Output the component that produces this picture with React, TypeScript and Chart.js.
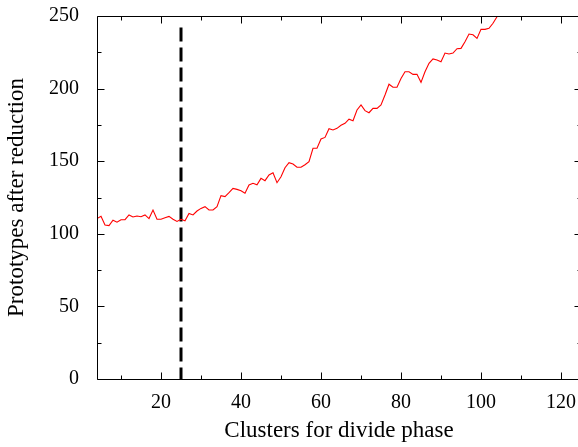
import React, { useEffect, useRef } from "react";
import { Chart, registerables } from "chart.js";

Chart.register(...registerables);

const clusters = [
  4, 5, 6, 7, 8, 9, 10, 11, 12, 13, 14, 15, 16, 17, 18, 19, 20, 21, 22, 23, 24,
  25, 26, 27, 28, 29, 30, 31, 32, 33, 34, 35, 36, 37, 38, 39, 40, 41, 42, 43, 44,
  45, 46, 47, 48, 49, 50, 51, 52, 53, 54, 55, 56, 57, 58, 59, 60, 61, 62, 63, 64,
  65, 66, 67, 68, 69, 70, 71, 72, 73, 74, 75, 76, 77, 78, 79, 80, 81, 82, 83, 84,
  85, 86, 87, 88, 89, 90, 91, 92, 93, 94, 95, 96, 97, 98, 99, 100, 101, 102, 103,
  104, 105,
];

const prototypes = [
  110.5, 112, 106, 105.6, 109.3, 108, 109.7, 109.7, 113, 111.6, 112.3, 111.8, 113,
  110.5, 116.4, 110, 110, 111, 112, 110, 108.5, 110, 109, 114, 113, 115.7, 117.5,
  118.7, 116.4, 116.4, 118.7, 126.3, 125.6, 128.3, 131.3, 130.6, 129.7, 127.9,
  133.6, 134.8, 133.8, 138.2, 136.6, 140.5, 142, 135.2, 139.3, 145.5, 149, 148,
  145.8, 145.8, 147.6, 149.7, 158.9, 158.9, 165.3, 166.4, 172.4, 171.5, 172.6,
  174.7, 176.1, 178.9, 177.9, 185.3, 188.7, 184.8, 183.4, 186.4, 186.4, 188.7,
  195.6, 203, 200.9, 200.9, 207, 211.6, 211.6, 209.8, 209.8, 204.3, 211.6, 217.4,
  220.4, 219.7, 218.5, 224.5, 223.8, 224.5, 227.5, 227.7, 232.3, 237.6, 237.1,
  234.6, 240.8, 240.8, 241.5, 245, 249.5, 255,
];

const markerX = [25, 25];
const markerY = [242, 0];

const xMajorTicks = [20, 40, 60, 80, 100, 120];
const xMinorTicks = [10, 30, 50, 70, 90, 110];
const yMajorTicks = [0, 50, 100, 150, 200, 250];
const yMinorTicks = [25, 75, 125, 175, 225];

const X_MIN = 4;
const X_MAX = 125;
const Y_MIN = 0;
const Y_MAX = 250;

const FONT = "'Liberation Serif', 'Times New Roman', serif";

const framePlugin = {
  id: "gnuplotFrame",
  afterDatasetsDraw(chart: any) {
    const { ctx, chartArea, scales } = chart;
    const xs = scales.x;
    const ys = scales.y;
    const l = Math.round(chartArea.left) + 0.5;
    const r = Math.round(chartArea.right) + 0.5;
    const t = Math.round(chartArea.top) + 0.5;
    const b = Math.round(chartArea.bottom) + 0.5;
    ctx.save();
    ctx.strokeStyle = "#000";
    ctx.lineWidth = 1;
    ctx.setLineDash([]);
    ctx.beginPath();
    ctx.moveTo(l, t);
    ctx.lineTo(r, t);
    ctx.moveTo(l, t);
    ctx.lineTo(l, b);
    ctx.lineTo(r, b);
    ctx.moveTo(r, t);
    ctx.lineTo(r, b);
    const major = 7;
    const minor = 4;
    const xt = (v: number, len: number) => {
      const px = Math.round(xs.getPixelForValue(v)) + 0.5;
      ctx.moveTo(px, b);
      ctx.lineTo(px, b - len);
      ctx.moveTo(px, t);
      ctx.lineTo(px, t + len);
    };
    const yt = (v: number, len: number) => {
      const py = Math.round(ys.getPixelForValue(v)) + 0.5;
      ctx.moveTo(l, py);
      ctx.lineTo(l + len, py);
      ctx.moveTo(r, py);
      ctx.lineTo(r - len, py);
    };
    xMajorTicks.forEach((v) => xt(v, major));
    xMinorTicks.forEach((v) => xt(v, minor));
    yMajorTicks.forEach((v) => yt(v, major));
    yMinorTicks.forEach((v) => yt(v, minor));
    ctx.stroke();
    ctx.restore();
  },
};

const zeroPad = (s: any) => {
  s.paddingTop = 0;
  s.paddingBottom = 0;
  s.paddingLeft = 0;
  s.paddingRight = 0;
};

export default function App() {
  const ref = useRef<HTMLCanvasElement | null>(null);

  useEffect(() => {
    if (!ref.current) return;
    const chart = new Chart(ref.current, {
      type: "line",
      data: {
        datasets: [
          {
            data: clusters.map((c, i) => ({ x: c, y: prototypes[i] })),
            borderColor: "#ff0000",
            borderWidth: 1.1,
            pointRadius: 0,
            tension: 0,
            fill: false,
          },
          {
            data: markerX.map((c, i) => ({ x: c, y: markerY[i] })),
            borderColor: "#000000",
            borderWidth: 3,
            borderDash: [14, 6],
            pointRadius: 0,
            fill: false,
          },
        ],
      },
      options: {
        responsive: false,
        animation: false,
        devicePixelRatio: 1,
        layout: { padding: { left: 0, top: 16, right: 3, bottom: 0 } },
        plugins: {
          legend: { display: false },
          tooltip: { enabled: false },
        },
        scales: {
          x: {
            type: "linear",
            min: X_MIN,
            max: X_MAX,
            grid: { display: false, drawTicks: false },
            border: { display: false },
            afterBuildTicks: (s: any) => {
              s.ticks = xMajorTicks.map((v) => ({ value: v }));
            },
            afterFit: (s: any) => {
              s.height = 68;
              zeroPad(s);
            },
            ticks: {
              autoSkip: false,
              maxRotation: 0,
              padding: 12,
              color: "#000",
              font: { family: FONT, size: 20 },
            },
            title: {
              display: true,
              text: "Clusters for divide phase",
              color: "#000",
              font: { family: FONT, size: 23 },
              padding: { top: 0, bottom: 2 },
            },
          },
          y: {
            type: "linear",
            min: Y_MIN,
            max: Y_MAX,
            grid: { display: false, drawTicks: false },
            border: { display: false },
            afterBuildTicks: (s: any) => {
              s.ticks = yMajorTicks.map((v) => ({ value: v }));
            },
            afterFit: (s: any) => {
              s.width = 97;
              zeroPad(s);
            },
            ticks: {
              autoSkip: false,
              padding: 18,
              color: "#000",
              font: { family: FONT, size: 20 },
            },
            title: {
              display: true,
              text: "Prototypes after reduction",
              color: "#000",
              font: { family: FONT, size: 23 },
              padding: { top: 3, bottom: 0 },
            },
          },
        },
      },
      plugins: [framePlugin],
    });
    return () => chart.destroy();
  }, []);

  return (
    <div
      style={{
        position: "fixed",
        left: 0,
        top: 0,
        width: 578,
        height: 447,
        overflow: "hidden",
        background: "#fff",
      }}
    >
      <canvas ref={ref} width={584} height={447} style={{ display: "block" }} />
    </div>
  );
}
